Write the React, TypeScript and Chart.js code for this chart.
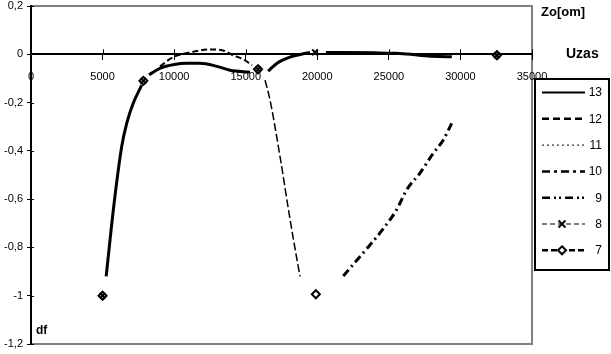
import React, { useEffect, useRef } from 'react';
import { Chart, registerables } from 'chart.js';

Chart.register(...registerables);

type Pt = [number, number | null];

const seriesLabels = ['13', '12', '11', '10', '9', '8', '7'];

const s13: Pt[] = [
  [5250, -0.92], [5800, -0.62], [6336, -0.382], [6686, -0.286], [7147, -0.202], [7733, -0.128],
  [8000, null],
  [8250, -0.085], [9000, -0.058], [10000, -0.042], [10900, -0.037], [11800, -0.037], [13000, -0.05], [13900, -0.066], [15300, -0.074],
  [16000, null],
  [16560, -0.07], [17190, -0.037], [18090, -0.012], [19490, 0.008],
  [20000, null],
  [20600, 0.007], [22000, 0.007], [24000, 0.006], [25500, 0.004], [26500, 0.0], [27500, -0.006], [28500, -0.009], [29400, -0.01],
];
const s12: Pt[] = [
  [9010, -0.05], [9920, -0.012], [11110, 0.008], [12500, 0.02], [13400, 0.016], [14100, -0.004], [14800, -0.02], [15440, -0.045],
];
const s11: Pt[] = [
  [16350, -0.107], [16700, -0.19], [17400, -0.425], [18100, -0.685], [18580, -0.85], [18790, -0.92],
];
const s10: Pt[] = [
  [21820, -0.918], [23215, -0.822], [24380, -0.74], [25550, -0.643], [26250, -0.561], [27175, -0.492], [28100, -0.41], [28800, -0.355], [29390, -0.286],
];
const m8: Pt[] = [[5000, -1], [7850, -0.11], [15860, -0.062], [19840, 0.008], [32550, -0.004]];
const m7: Pt[] = [[5000, -1], [7850, -0.11], [15860, -0.062], [19900, -0.994], [32550, -0.004]];

const xMin = 0, xMax = 35000, xStep = 5000;
const yMin = -1.2, yMax = 0.2, yStep = 0.2;

const toXY = (a: Pt[]) => a.map(([x, y]) => ({ x, y }));

const legendStyles = [
  { dash: [], width: 2, marker: '' },
  { dash: [7, 4], width: 2.5, marker: '' },
  { dash: [2, 3], width: 1, marker: '' },
  { dash: [8, 4, 3, 4], width: 2.5, marker: '' },
  { dash: [8, 4, 2, 3, 2, 4], width: 2.5, marker: '' },
  { dash: [5, 3], width: 1.2, marker: 'x' },
  { dash: [6, 3], width: 2.5, marker: 'd' },
];

const FONT = '"Liberation Sans", Arial, sans-serif';

function drawX(ctx: CanvasRenderingContext2D, x: number, y: number, r: number) {
  ctx.save();
  ctx.setLineDash([]);
  ctx.lineWidth = 2;
  ctx.strokeStyle = '#000';
  ctx.beginPath();
  ctx.moveTo(x - r, y - r); ctx.lineTo(x + r, y + r);
  ctx.moveTo(x + r, y - r); ctx.lineTo(x - r, y + r);
  ctx.stroke();
  ctx.restore();
}
function drawD(ctx: CanvasRenderingContext2D, x: number, y: number, r: number) {
  ctx.save();
  ctx.setLineDash([]);
  ctx.lineWidth = 2;
  ctx.strokeStyle = '#000';
  ctx.fillStyle = '#fff';
  ctx.beginPath();
  ctx.moveTo(x, y - r); ctx.lineTo(x + r, y); ctx.lineTo(x, y + r); ctx.lineTo(x - r, y); ctx.closePath();
  ctx.fill(); ctx.stroke();
  ctx.restore();
}

const decorPlugin = {
  id: 'decor',
  beforeDraw(chart: any) {
    const { ctx, chartArea: a } = chart;
    ctx.save();
    ctx.strokeStyle = '#808080';
    ctx.lineWidth = 2;
    ctx.beginPath();
    ctx.moveTo(a.left, a.top); ctx.lineTo(a.right, a.top); ctx.lineTo(a.right, a.bottom); ctx.lineTo(a.left, a.bottom);
    ctx.stroke();
    ctx.restore();
  },
  beforeDatasetsDraw(chart: any) {
    const { ctx } = chart;
    const xs = chart.scales.x, ys = chart.scales.y;
    const y0 = ys.getPixelForValue(0);
    const xl = ys.left + ys.width;
    ctx.save();
    ctx.strokeStyle = '#000';
    ctx.lineWidth = 1;
    ctx.beginPath();
    xs.ticks.forEach((t: any) => {
      const px = Math.round(xs.getPixelForValue(t.value)) + 0.5;
      ctx.moveTo(px, y0 - 5); ctx.lineTo(px, y0);
    });
    ys.ticks.forEach((t: any) => {
      const py = Math.round(ys.getPixelForValue(t.value)) + 0.5;
      ctx.moveTo(xl, py); ctx.lineTo(xl + 3, py);
    });
    ctx.stroke();
    ctx.restore();
  },
  afterDraw(chart: any) {
    const { ctx } = chart;
    ctx.save();
    ctx.fillStyle = '#000';
    ctx.textBaseline = 'middle';
    ctx.textAlign = 'left';
    ctx.font = 'bold 13px ' + FONT;
    ctx.fillText('Zo[om]', 541, 12);
    ctx.font = 'bold 14px ' + FONT;
    ctx.fillText('Uzas', 566, 54);
    ctx.font = 'bold 12px ' + FONT;
    ctx.fillText('df', 36, 331);

    // legend
    const bx = 535, by = 79, bw = 74, bh = 191;
    ctx.fillStyle = '#fff';
    ctx.fillRect(bx, by, bw, bh);
    ctx.strokeStyle = '#000';
    ctx.lineWidth = 2;
    ctx.strokeRect(bx, by, bw, bh);
    seriesLabels.forEach((lab, i) => {
      const st = legendStyles[i];
      const y = 92.5 + i * 26.3;
      ctx.save();
      ctx.strokeStyle = '#000';
      ctx.lineWidth = st.width;
      ctx.setLineDash(st.dash);
      ctx.beginPath();
      ctx.moveTo(542, y); ctx.lineTo(585, y);
      ctx.stroke();
      ctx.restore();
      if (st.marker === 'x') drawX(ctx, 562, y, 3.5);
      if (st.marker === 'd') drawD(ctx, 562, y, 4);
      ctx.fillStyle = '#000';
      ctx.font = '12px ' + FONT;
      ctx.textAlign = 'right';
      ctx.textBaseline = 'middle';
      ctx.fillText(lab, 602, y + 0.5);
    });
    ctx.restore();
  },
};

export default function App() {
  const ref = useRef<HTMLCanvasElement | null>(null);
  useEffect(() => {
    document.body.style.margin = '0';
    if (!ref.current) return;
    Chart.defaults.font.family = FONT;
    Chart.defaults.font.size = 11;
    Chart.defaults.color = '#000';
    const lineBase = {
      pointRadius: 0, borderColor: '#000', backgroundColor: '#000', spanGaps: false,
      cubicInterpolationMode: 'monotone', fill: false,
    };
    const chart = new Chart(ref.current, {
      type: 'line',
      data: {
        datasets: [
          { ...lineBase, label: '13', data: toXY(s13), borderWidth: 3 },
          { ...lineBase, label: '12', data: toXY(s12), borderWidth: 2, borderDash: [6, 3] },
          { ...lineBase, label: '11', data: toXY(s11), borderWidth: 1.5, borderDash: [8, 3] },
          { ...lineBase, label: '10', data: toXY(s10), borderWidth: 3, borderDash: [8, 4, 2, 4] },
          {
            label: '8', data: toXY(m8), showLine: false, pointStyle: 'crossRot', pointRadius: 4,
            pointBorderWidth: 2, borderColor: '#000', backgroundColor: '#000',
          },
          {
            label: '7', data: toXY(m7), showLine: false, pointStyle: 'rectRot', pointRadius: 4,
            pointBorderWidth: 2, borderColor: '#000', backgroundColor: '#fff',
          },
        ] as any,
      },
      options: {
        animation: false,
        responsive: false,
        events: [],
        layout: { padding: { top: 5, bottom: 10, right: 79, left: 0 } },
        plugins: { legend: { display: false }, tooltip: { enabled: false }, title: { display: false } },
        scales: {
          x: {
            type: 'linear',
            position: { y: 0 } as any,
            min: xMin, max: xMax,
            ticks: { stepSize: xStep, padding: 11, maxRotation: 0, autoSkip: false, callback: (v: any) => String(v), font: { size: 11 } },
            grid: { display: true, drawOnChartArea: false, color: '#000', tickLength: 5, lineWidth: 1 },
            border: { display: true, color: '#000', width: 2 },
          },
          y: {
            type: 'linear',
            min: yMin, max: yMax,
            afterFit: (s: any) => { s.width = 31; s.paddingTop = 0; s.paddingBottom = 0; },
            ticks: {
              stepSize: yStep, padding: 4, autoSkip: false,
              callback: (v: any) => {
                const r = Math.round(Number(v) * 10) / 10;
                return Number.isInteger(r) ? String(r) : r.toFixed(1).replace('.', ',');
              },
              font: { size: 11 },
            },
            grid: { display: true, drawOnChartArea: false, color: '#000', tickLength: 4, lineWidth: 1 },
            border: { display: true, color: '#000', width: 2 },
          },
        },
      } as any,
      plugins: [decorPlugin],
    });
    return () => chart.destroy();
  }, []);
  return <canvas ref={ref} width={611} height={354} style={{ display: 'block' }} />;
}
